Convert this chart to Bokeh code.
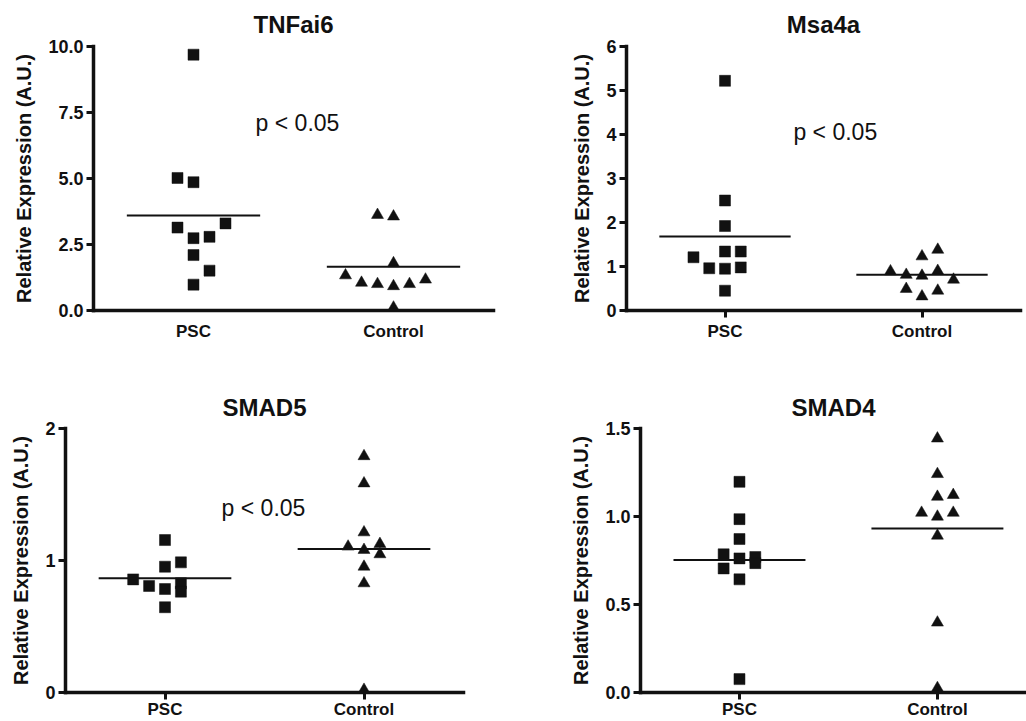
from bokeh.plotting import figure
from bokeh.layouts import column, row
from bokeh.models import Range1d, FixedTicker, Label
from bokeh.embed import file_html
from bokeh.resources import INLINE

# ---------------- data ----------------
groups = ["PSC", "Control"]

tnf_psc = [9.69, 5.02, 4.86, 3.30, 3.14, 2.79, 2.74, 2.10, 1.51, 0.98]
tnf_psc_slot = [0, -1, 0, 2, -1, 1, 0, 0, 1, 0]
tnf_ctl = [3.62, 3.56, 1.79, 1.33, 1.05, 1.00, 0.92, 1.00, 1.17, 0.11]
tnf_ctl_slot = [-1, 0, 0, -3, -2, -1, 0, 1, 2, 0]
tnf_means = [3.60, 1.66]
tnf_ticks = [0, 2.5, 5, 7.5, 10]
tnf_tick_labels = ["0.0", "2.5", "5.0", "7.5", "10.0"]

msa_psc = [5.22, 2.50, 1.92, 1.34, 1.34, 1.21, 0.96, 0.95, 0.98, 0.45]
msa_psc_slot = [0, 0, 0, 0, 1, -2, -1, 0, 1, 0]
msa_ctl = [1.38, 1.23, 0.89, 0.81, 0.79, 0.90, 0.70, 0.49, 0.45, 0.32]
msa_ctl_slot = [1, 0, -2, -1, 0, 1, 2, -1, 1, 0]
msa_means = [1.68, 0.81]
msa_ticks = [0, 1, 2, 3, 4, 5, 6]
msa_tick_labels = ["0", "1", "2", "3", "4", "5", "6"]

smad5_psc = [1.155, 0.986, 0.953, 0.857, 0.807, 0.784, 0.827, 0.764, 0.646]
smad5_psc_slot = [0, 1, 0, -2, -1, 0, 1, 1, 0]
smad5_ctl = [1.79, 1.584, 1.213, 1.105, 1.08, 1.125, 1.047, 0.953, 0.827, 0.02]
smad5_ctl_slot = [0, 0, 0, -1, 0, 1, 1, 0, 0, 0]
smad5_means = [0.865, 1.087]
smad5_ticks = [0, 1, 2]
smad5_tick_labels = ["0", "1", "2"]

smad4_psc = [1.197, 0.985, 0.872, 0.785, 0.705, 0.762, 0.77, 0.735, 0.643, 0.076]
smad4_psc_slot = [0, 0, 0, -1, -1, 0, 1, 1, 0, 0]
smad4_ctl = [1.443, 1.241, 1.112, 1.122, 1.021, 0.999, 1.021, 0.891, 0.397, 0.025]
smad4_ctl_slot = [0, 0, 0, 1, -1, 0, 1, 0, 0, 0]
smad4_means = [0.753, 0.932]
smad4_ticks = [0, 0.5, 1.0, 1.5]
smad4_tick_labels = ["0.0", "0.5", "1.0", "1.5"]

# ---------------- styling ----------------
INK = "#111111"
FONT = "Liberation Sans"
SLOT = 0.08      # horizontal spacing of stacked points (x units)
HALF = 1 / 3     # half width of the mean line (x units)


def panel(title, psc, psc_slot, ctl, ctl_slot, means, yticks, ylabels,
          width, height, borders, x_end, xticks_visible, title_standoff,
          xlabel_standoff, ptext=None):
    bl, br, bt, bb = borders
    p = figure(width=width, height=height, output_backend="svg",
               toolbar_location=None,
               x_range=Range1d(0.5, x_end),
               y_range=Range1d(yticks[0], yticks[-1]),
               min_border_left=bl, min_border_right=br,
               min_border_top=bt, min_border_bottom=bb)
    p.outline_line_color = None
    p.grid.visible = False
    p.background_fill_color = "white"
    p.border_fill_color = "white"

    p.title.text = title
    p.title.align = "center"
    p.title.text_font = FONT
    p.title.text_font_style = "bold"
    p.title.text_font_size = "24px"
    p.title.text_color = INK
    p.title.standoff = title_standoff

    # markers
    xs_p = [1 + s * SLOT for s in psc_slot]
    xs_c = [2 + s * SLOT for s in ctl_slot]
    p.scatter(xs_p, psc, marker="square", size=11, fill_color=INK, line_color=INK, line_width=0.5)
    p.scatter(xs_c, ctl, marker="triangle", size=12, fill_color=INK, line_color=INK, line_width=0.5)

    # mean lines
    centers = [1, 2]
    p.segment(x0=[c - HALF for c in centers], y0=means,
              x1=[c + HALF for c in centers], y1=means,
              line_color=INK, line_width=2)

    # axes
    p.axis.axis_line_width = 3.5
    p.axis.axis_line_color = INK
    p.axis.axis_line_cap = "square"
    p.axis.major_tick_line_width = 3
    p.axis.major_tick_line_color = INK
    p.axis.major_tick_out = 7
    p.axis.major_tick_in = 0
    p.axis.minor_tick_line_color = None
    p.axis.major_label_text_font = FONT
    p.axis.major_label_text_font_style = "bold"
    p.axis.major_label_text_color = INK

    p.xaxis.ticker = FixedTicker(ticks=centers)
    p.xaxis.major_label_overrides = {c: g for c, g in zip(centers, groups)}
    p.xaxis.major_label_standoff = xlabel_standoff
    p.xaxis.major_label_text_font_size = "17px"
    if not xticks_visible:
        p.xaxis.major_tick_line_color = None

    p.yaxis.ticker = FixedTicker(ticks=yticks)
    p.yaxis.major_label_overrides = {t: l for t, l in zip(yticks, ylabels)}
    p.yaxis.major_label_standoff = 3
    p.yaxis.major_label_text_font_size = "18px"
    p.yaxis.axis_label = "Relative Expression (A.U.)"
    p.yaxis.axis_label_text_font = FONT
    p.yaxis.axis_label_text_font_style = "bold"
    p.yaxis.axis_label_text_font_size = "20px"
    p.yaxis.axis_label_text_color = INK
    p.yaxis.axis_label_standoff = 10

    if ptext is not None:
        p.add_layout(Label(x=ptext[0], y=ptext[1], text="p < 0.05",
                           text_align="center", text_baseline="alphabetic",
                           text_font=FONT, text_font_size="23px",
                           text_color=INK))
    return p


p1 = panel("TNFai6", tnf_psc, tnf_psc_slot, tnf_ctl, tnf_ctl_slot, tnf_means,
           tnf_ticks, tnf_tick_labels, 500, 360, (93, 7, 46, 50), 2.5, False, 17, 4,
           ptext=(1.52, 7.1))
p2 = panel("Msa4a", msa_psc, msa_psc_slot, msa_ctl, msa_ctl_slot, msa_means,
           msa_ticks, msa_tick_labels, 526, 360, (126, 6, 46, 50), 2.5, True, 17, 4,
           ptext=(1.56, 4.05))
p3 = panel("SMAD5", smad5_psc, smad5_psc_slot, smad5_ctl, smad5_ctl_slot, smad5_means,
           smad5_ticks, smad5_tick_labels, 500, 361, (65, 37, 68, 28), 2.5, True, 16, 0,
           ptext=(1.495, 1.40))
p4 = panel("SMAD4", smad4_psc, smad4_psc_slot, smad4_ctl, smad4_ctl_slot, smad4_means,
           smad4_ticks, smad4_tick_labels, 526, 361, (140, 0, 68, 28), 2.45, True, 16, 0)

layout = column(row(p1, p2), row(p3, p4))
open("out.html", "w").write(file_html(layout, INLINE))
